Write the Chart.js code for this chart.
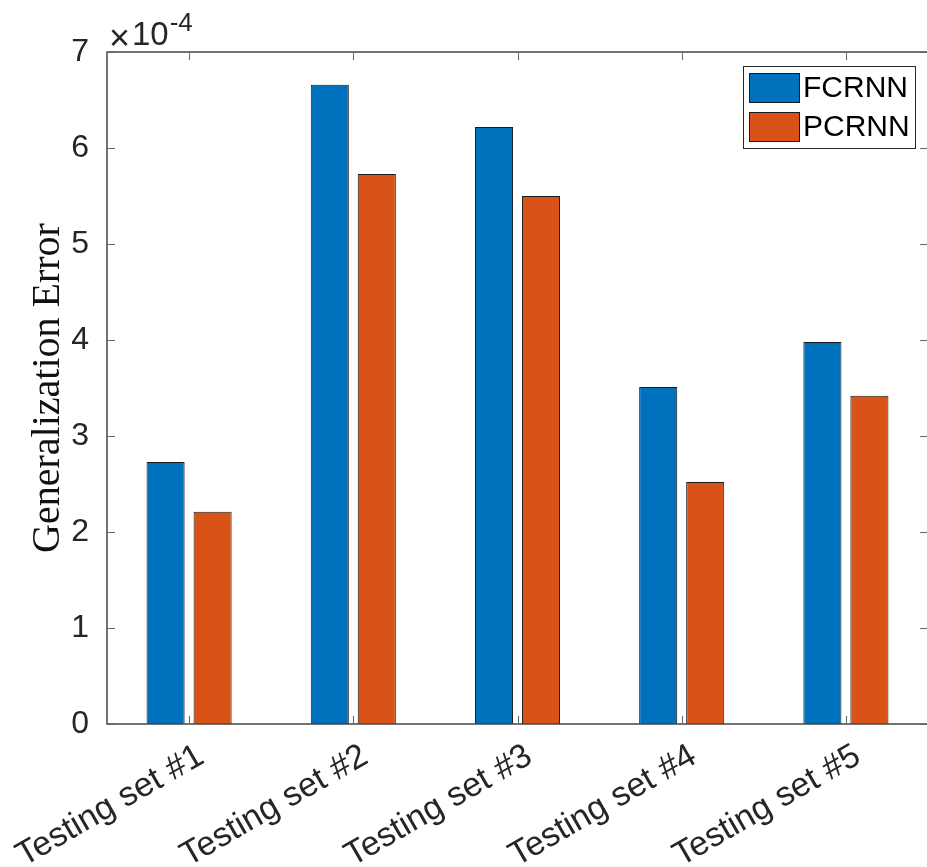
<!DOCTYPE html>
<html>
<head>
<meta charset="utf-8">
<script src="https://cdn.jsdelivr.net/npm/chart.js@4"></script>
<style>
  html, body { margin: 0; padding: 0; background: #fff; overflow: hidden; }
  #wrap { width: 935px; height: 867px; }
</style>
</head>
<body>
<div id="wrap"><canvas id="c" width="935" height="867"></canvas></div>
<script>
// Generalization error per testing set, in units of 10^-4
const categories = ['Testing set #1', 'Testing set #2', 'Testing set #3', 'Testing set #4', 'Testing set #5'];
const fcrnn = [2.73, 6.66, 6.22, 3.51, 3.98];
const pcrnn = [2.21, 5.73, 5.50, 2.52, 3.42];
const yTicks = [0, 1, 2, 3, 4, 5, 6, 7];
const exponent = '-4';

const AXIS = '#262626';
const SANS = "'Liberation Sans', Arial, sans-serif";

// Box around the axes with inward tick marks, the ×10^n multiplier and the legend
const framePlugin = {
  id: 'frame',
  afterDatasetsDraw(chart) {
    const { ctx, chartArea: a, scales: { x, y } } = chart;
    ctx.save();

    ctx.strokeStyle = '#454545';
    ctx.lineWidth = 1.5;
    ctx.strokeRect(a.left, a.top, a.right - a.left, a.bottom - a.top);

    const tl = 8;
    ctx.beginPath();
    y.ticks.forEach(t => {
      const py = Math.round(y.getPixelForValue(t.value)) + 0.5;
      ctx.moveTo(a.left, py); ctx.lineTo(a.left + tl, py);
      ctx.moveTo(a.right, py); ctx.lineTo(a.right - tl, py);
    });
    categories.forEach((c, i) => {
      const px = Math.round(x.getPixelForValue(i)) + 0.5;
      ctx.moveTo(px, a.bottom); ctx.lineTo(px, a.bottom - tl);
      ctx.moveTo(px, a.top); ctx.lineTo(px, a.top + tl);
    });
    ctx.lineWidth = 1;
    ctx.strokeStyle = '#666';
    ctx.stroke();

    // multiplier above the y axis
    ctx.fillStyle = AXIS;
    ctx.textAlign = 'left';
    ctx.textBaseline = 'alphabetic';
    ctx.font = '36px ' + SANS;
    ctx.fillText('\u00D7', a.left + 2, a.top - 2);
    ctx.font = '33px ' + SANS;
    ctx.fillText('10', a.left + 25, a.top - 7);
    const w = ctx.measureText('10').width;
    ctx.font = '26px ' + SANS;
    ctx.fillText(exponent, a.left + 26 + w, a.top - 21);

    // legend box
    const lx = 743.5, ly = 66.5, lw = 172, lh = 82;
    ctx.fillStyle = '#fff';
    ctx.fillRect(lx, ly, lw, lh);
    ctx.strokeStyle = '#262626';
    ctx.lineWidth = 1;
    ctx.strokeRect(lx, ly, lw, lh);
    chart.data.datasets.forEach((ds, i) => {
      const sy = 73.5 + i * 39;
      ctx.fillStyle = ds.backgroundColor;
      ctx.fillRect(749.5, sy, 50, 29);
      ctx.strokeStyle = '#1a1a1a';
      ctx.strokeRect(749.5, sy, 50, 29);
      ctx.fillStyle = '#000';
      ctx.font = '30px ' + SANS;
      ctx.textBaseline = 'middle';
      ctx.fillText(ds.label, 803, sy + 15);
    });
    ctx.restore();
  }
};

new Chart(document.getElementById('c'), {
  type: 'bar',
  data: {
    labels: categories,
    datasets: [
      { label: 'FCRNN', data: fcrnn, backgroundColor: '#0072BD', borderColor: '#1a1a1a', borderWidth: 1 },
      { label: 'PCRNN', data: pcrnn, backgroundColor: '#D95319', borderColor: '#1a1a1a', borderWidth: 1 }
    ]
  },
  options: {
    responsive: false,
    animation: false,
    events: [],
    layout: { padding: { top: 52, right: 7, bottom: 0, left: 0 } },
    datasets: { bar: { categoryPercentage: 0.5725, barPercentage: 0.81 } },
    plugins: { legend: { display: false }, tooltip: { enabled: false } },
    scales: {
      x: {
        grid: { display: false },
        border: { display: false },
        ticks: {
          autoSkip: false, minRotation: 30, maxRotation: 30, padding: 4, labelOffset: 12,
          color: AXIS, font: { family: SANS, size: 34 }
        },
        afterFit(scale) {
          scale.height = 143;
          scale.paddingLeft = 0;
          scale.paddingRight = 0;
        }
      },
      y: {
        min: 0, max: 7,
        grid: { display: false },
        border: { display: false },
        afterBuildTicks(scale) { scale.ticks = yTicks.map(v => ({ value: v })); },
        ticks: { padding: 10, color: AXIS, font: { family: SANS, size: 32 } },
        title: {
          display: true, text: 'Generalization Error', color: '#111',
          font: { family: "'Liberation Serif', 'Times New Roman', serif", size: 40 },
          padding: { top: 24, bottom: 0 }
        },
        afterFit(scale) { scale.width = 107; }
      }
    }
  },
  plugins: [framePlugin]
});
</script>
</body>
</html>
